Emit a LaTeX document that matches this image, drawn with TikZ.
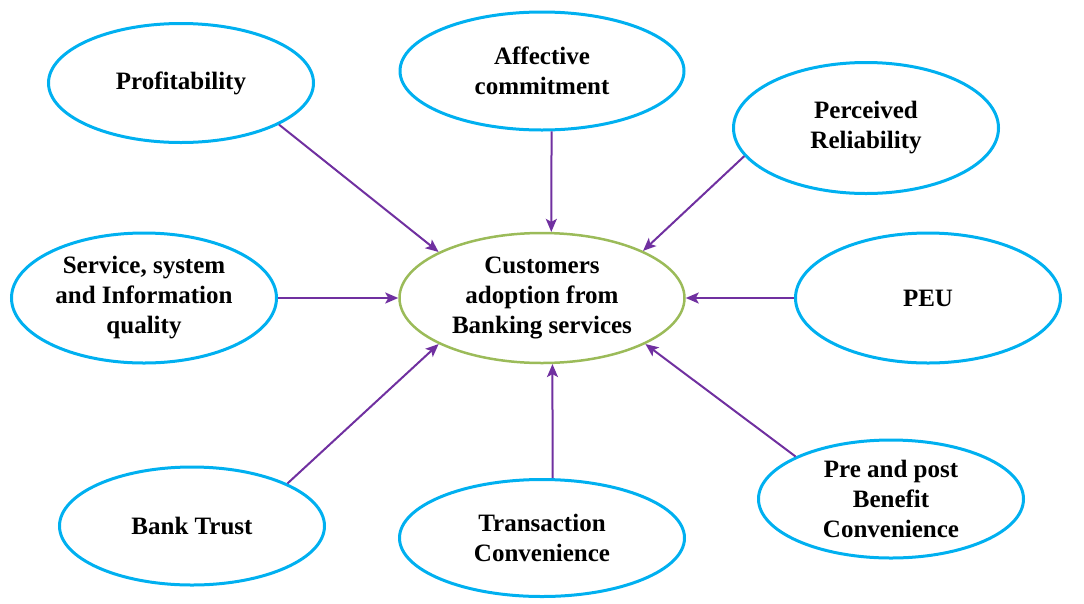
\documentclass[tikz,border=0pt]{standalone}
\usepackage{fontspec}
\setmainfont{Liberation Serif}
\usetikzlibrary{arrows.meta,positioning,shapes}
\definecolor{ovalblue}{RGB}{0,176,240}
\definecolor{ovalgreen}{RGB}{155,187,89}
\definecolor{linkpurple}{RGB}{112,48,160}

\begin{document}
\begin{tikzpicture}[x=1pt,y=-1pt,
 every node/.style={ellipse,inner sep=0pt,align=center,font=\fontsize{25}{30}\selectfont\bfseries},
 factor/.style={draw=ovalblue,line width=3pt,minimum width=265pt,minimum height=119pt},
 core/.style={draw=ovalgreen,line width=2.5pt,minimum width=285pt,minimum height=130pt},
 link/.style={draw=linkpurple,line width=2pt,-{Stealth[length=13pt,width=11pt,inset=3pt]}}]
 \useasboundingbox (0,0) rectangle (1084,603);

 \node[core] (cen) at (542,298) {Customers\\adoption from\\Banking services};
 \node[factor] (prof) at (181,83) {Profitability};
 \node[factor,minimum width=284pt,minimum height=118pt] (aff) at (542,71) {Affective\\commitment};
 \node[factor,minimum height=131pt] (perc) at (866,128) {Perceived\\Reliability};
 \node[factor,minimum height=130pt] (serv) at (144,298) {Service, system\\and Information\\quality};
 \node[factor,minimum height=130pt] (peu) at (928,298) {PEU};
 \node[factor,minimum height=118pt] (bank) at (192,526) {Bank Trust};
 \node[factor,minimum width=285pt,minimum height=117pt] (trans) at (542,538) {Transaction\\Convenience};
 \node[factor,minimum height=118pt] (pre) at (891,499) {Pre and post\\Benefit\\Convenience};

 \draw[link] (prof.-23) -- (cen.156);
 \draw[link] (aff.-81) -- (cen.82);
 \draw[link] (perc.193) -- (cen.25);
 \draw[link] (serv.east) -- (cen.west);
 \draw[link] (peu.west) -- (cen.east);
 \draw[link] (bank.24) -- (cen.204);
 \draw[link] (trans.80) -- (cen.-81);
 \draw[link] (pre.156) -- (cen.-24);

\end{tikzpicture}
\end{document}
